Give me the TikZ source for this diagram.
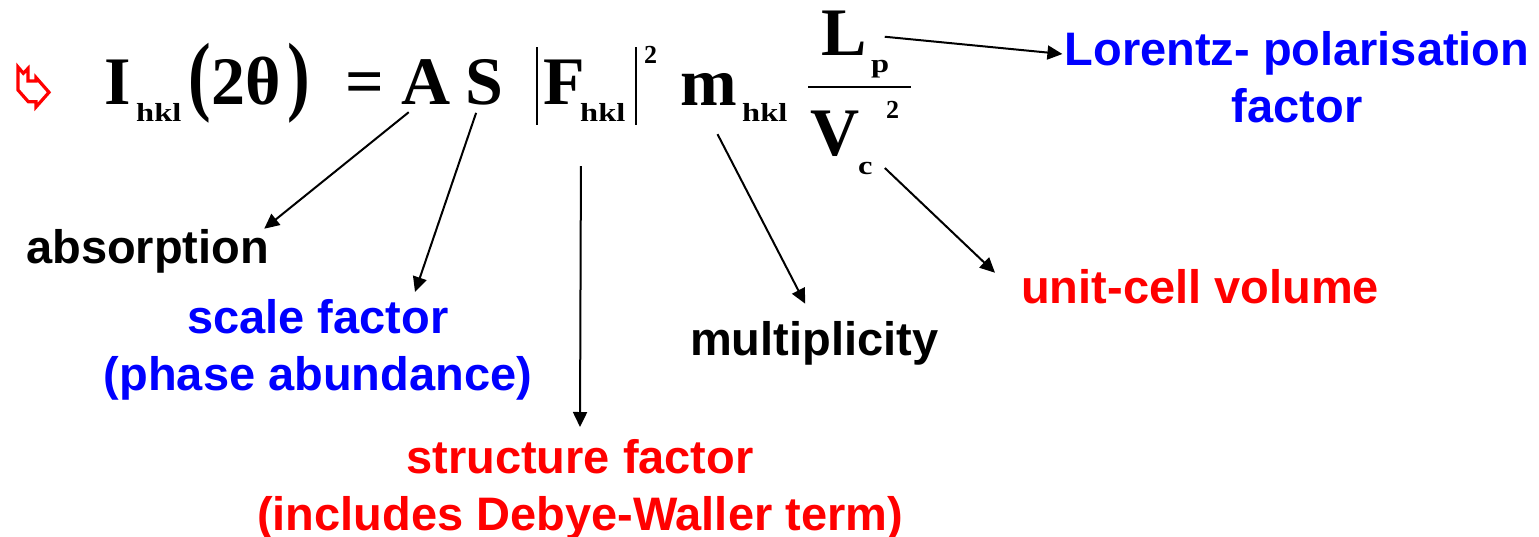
\documentclass[tikz,border=0pt]{standalone}
\usepackage{fontspec}
\setmainfont{Liberation Serif}
\newfontfamily\labelfont{Liberation Sans}
\usepackage{graphicx}
\usetikzlibrary{arrows.meta}
\definecolor{termblue}{HTML}{0000FF}
\definecolor{termred}{HTML}{FF0000}
\newcommand{\subidx}[1]{\scalebox{1.25}[1]{#1}}

\begin{document}
\begin{tikzpicture}[x=1pt,y=-1pt,>={Triangle[length=15pt,width=14pt]},
  eqbig/.style={inner sep=0pt,anchor=base west,font=\fontsize{68}{68}\selectfont\bfseries},
  eqsmall/.style={inner sep=0pt,anchor=base west,font=\fontsize{26}{26}\selectfont\bfseries},
  termlabel/.style={inner sep=0pt,align=center,font=\labelfont\fontsize{47}{57}\selectfont\bfseries},
  conn/.style={->,line width=2pt}]
  \useasboundingbox (0,0) rectangle (1539,536);

  % bullet
  \draw[termred,line width=3.2pt,line join=miter]
    (18,67) -- (23.3,73.3) -- (28,68.5) -- (28,81) -- (36,81)
    -- (36,77.5) -- (49,92.3) -- (36,107) -- (36,101.7)
    -- (28.3,101.7) -- (18,90) -- cycle;

  % the equation
  \node[eqbig] (termI) at (104,104) {I};
  \node[eqsmall] (subI) at (136,121) {\subidx{hkl}};
  \node[eqbig] (lpar) at (188,104) {\scalebox{1}[1.3]{(}};
  \node[eqbig] (angle) at (211,104) {2θ};
  \node[eqbig] (rpar) at (287,104) {\scalebox{1}[1.3]{)}};
  \node[eqbig] (eqsign) at (345,104) {=};
  \node[eqbig] (termA) at (401,104) {A};
  \node[eqbig] (termS) at (465,104) {S};
  \draw[line width=2.5pt] (537,47) -- (537,125);
  \node[eqbig] (termF) at (543,104) {F};
  \node[eqsmall] (subF) at (580,121) {\subidx{hkl}};
  \draw[line width=2.5pt] (636,47) -- (636,125);
  \node[eqsmall] (supF) at (644,63) {2};
  \node[eqbig] (termm) at (680,105) {m};
  \node[eqsmall] (subm) at (742,121) {\subidx{hkl}};
  \node[eqbig] (termL) at (821,55) {L};
  \node[eqsmall] (subL) at (871,72) {\subidx{p}};
  \draw[line width=2pt] (808,87) -- (911,87);
  \node[eqbig] (termV) at (810,155) {V};
  \node[eqsmall] (subV) at (858,174) {\subidx{c}};
  \node[eqsmall] (supV) at (886,118) {2};

  % what the terms are
  \node[termlabel,anchor=base west] (absorption) at (26,263) {absorption};
  \node[termlabel,termblue,anchor=north] (scale) at (318,299)
    {scale factor\\(phase abundance)};
  \node[termlabel,termred,anchor=north] (struct) at (580,439)
    {structure factor\\(includes Debye-Waller term)};
  \node[termlabel,anchor=base west] (multi) at (690,355) {multiplicity};
  \node[termlabel,termred,anchor=base west] (unitcell) at (1021,303)
    {unit-cell volume};
  \node[termlabel,termblue,anchor=north] (lorentz) at (1297,31)
    {Lorentz- polarisation\\factor};

  \draw[conn] ([xshift=-17pt,yshift=-8pt]termA.south)
    -- ([xshift=-5pt]absorption.north east);
  \draw[conn] ([xshift=-8pt,yshift=-8pt]termS.south)
    -- ([xshift=97pt,yshift=7pt]scale.north);
  \draw[conn] ([xshift=-4pt,yshift=-62pt]termF.south east)
    -- ([yshift=12pt]struct.north);
  \draw[conn] ([xshift=9pt,yshift=-29pt]termm.south)
    -- ([xshift=-9pt,yshift=17pt]multi.north);
  \draw[conn] ([xshift=12pt]subV.east)
    -- ([xshift=-26pt,yshift=-4pt]unitcell.north west);
  \draw[conn] ([xshift=18pt,yshift=-4pt]termL.east)
    -- ([xshift=-2pt,yshift=-23pt]lorentz.north west);
\end{tikzpicture}
\end{document}
